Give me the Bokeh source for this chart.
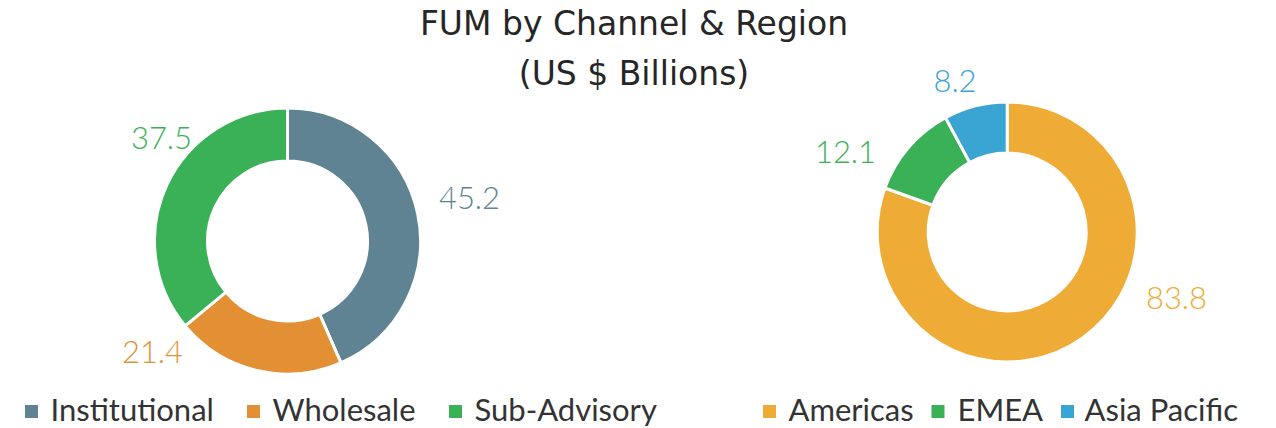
import numpy as np
from bokeh.plotting import figure
from bokeh.models import Range1d
from bokeh.core.properties import value
from bokeh.embed import file_html
from bokeh.resources import INLINE

# ---------------- data ----------------
title_lines = ["FUM by Channel & Region", "(US $ Billions)"]

channel_names = ["Institutional", "Wholesale", "Sub-Advisory"]
channel_values = [45.2, 21.4, 37.5]
channel_colors = ["#5f8393", "#e39034", "#3bb157"]

region_names = ["Americas", "EMEA", "Asia Pacific"]
region_values = [83.8, 12.1, 8.2]
region_colors = ["#eeac36", "#3bb157", "#3aa4d2"]

# ---------------- layout (page pixel coords) ----------------
W, H = 1276, 428


def X(px):
    return px


def Y(py):
    return H - py


def BL(py, size):
    # empirical baseline compensation for svg text
    return Y(py - 0.4 * size)


LABEL_FONT = value("Lato Light")
TEXT_FONT = value("Lato")
TITLE_FONT = value("DejaVu Sans")

p = figure(width=W, height=H, output_backend="svg", toolbar_location=None,
           x_range=Range1d(0, W), y_range=Range1d(0, H),
           x_axis_type=None, y_axis_type=None, min_border=0)
p.grid.visible = False
p.outline_line_color = None
p.background_fill_color = "white"
p.border_fill_color = "white"


def donut(values, colors, center, r_out, r_in, label_pos):
    vals = np.array(values, dtype=float)
    total = vals.sum()
    cum = np.concatenate([[0], np.cumsum(vals)])
    starts = np.pi / 2 - 2 * np.pi * cum[:-1] / total
    ends = np.pi / 2 - 2 * np.pi * cum[1:] / total
    cx, cy = X(center[0]), Y(center[1])
    p.annular_wedge(x=cx, y=cy, inner_radius=r_in - 1.5, outer_radius=r_out + 1.5,
                    start_angle=list(starts), end_angle=list(ends), direction="clock",
                    fill_color=colors, line_color="white", line_width=3)
    p.text(x=[X(a) for a, b in label_pos], y=[BL(b, 31) for a, b in label_pos],
           text=[f"{v:.1f}" for v in values], text_color=colors,
           text_font=LABEL_FONT, text_font_size="31px",
           text_align="center", text_baseline="alphabetic")


donut(channel_values, channel_colors, (287, 240.5), 131.5, 81.5,
      [(469, 210), (152, 364), (161, 150)])
donut(region_values, region_colors, (1006.7, 231.5), 128.5, 80.5,
      [(1176, 310), (845, 164), (954.5, 93)])

# title
p.text(x=[X(633.5)] * 2, y=[BL(36, 33), BL(86, 33)], text=title_lines,
       text_color="#262626", text_font=TITLE_FONT, text_font_size="33px",
       text_align="center", text_baseline="alphabetic")


def legend(names, colors, sq_x, txt_x):
    p.rect(x=[X(v) for v in sq_x], y=[Y(411)] * len(sq_x), width=13, height=13,
           fill_color=colors, line_color=None)
    p.text(x=[X(v) for v in txt_x], y=[BL(421, 31)] * len(txt_x), text=names,
           text_color="#333333", text_font=TEXT_FONT, text_font_size="31px",
           text_align="left", text_baseline="alphabetic")


legend(channel_names, channel_colors, [31, 253, 455], [50, 272, 474])
legend(region_names, region_colors, [769, 937.5, 1067], [788, 957, 1084])

open("out.html", "w").write(file_html(p, INLINE))
